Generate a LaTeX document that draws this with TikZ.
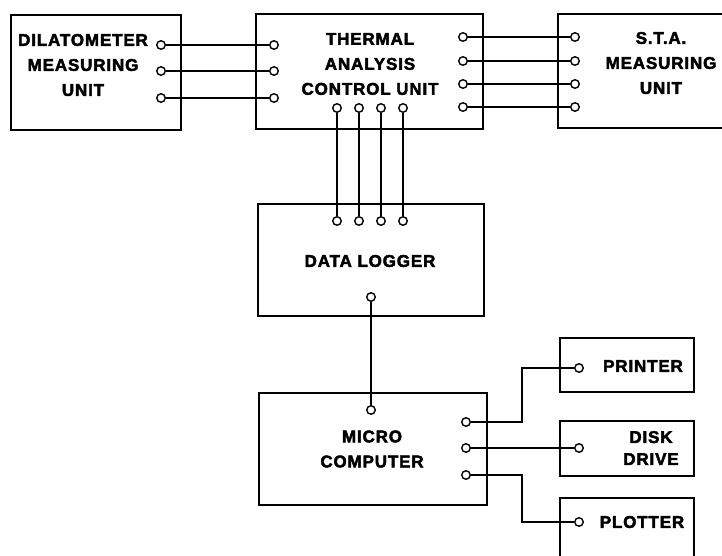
\documentclass[tikz,border=0pt]{standalone}
\usepackage{fontspec}
\setmainfont{Liberation Sans}
\newfontfamily\heavy[FakeBold=2.6, LetterSpace=5]{Liberation Sans Bold}
\begin{document}
\begin{tikzpicture}[x=1pt,y=-1pt,
  box/.style={draw, line width=1.7pt, rectangle, anchor=north west, inner sep=0pt},
  port/.style={circle, draw, line width=1.4pt, inner sep=0pt, minimum size=8.5pt, fill=white},
  lbl/.style={font=\fontsize{17}{25}\selectfont\heavy, align=center, inner sep=0pt},
  lbls/.style={font=\fontsize{17}{22}\selectfont\heavy, align=center, inner sep=0pt},
  wire/.style={line width=1.4pt}]
\path[use as bounding box, clip] (0,0) rectangle (722,555);
\fill[white] (0,0) rectangle (722,555);
% boxes
\node[box, minimum width=170pt, minimum height=115pt] (dil) at (10,14) {};
\node[box, minimum width=227pt, minimum height=115pt] (tac) at (255,13) {};
\node[box, minimum width=180pt, minimum height=114pt] (sta) at (557,13) {};
\node[box, minimum width=226pt, minimum height=112pt] (dlg) at (257,203) {};
\node[box, minimum width=228pt, minimum height=112pt] (mic) at (258,392) {};
\node[box, minimum width=134pt, minimum height=54pt] (prn) at (559,337) {};
\node[box, minimum width=134pt, minimum height=55pt] (dsk) at (559,420) {};
\node[box, minimum width=134pt, minimum height=70pt] (plt) at (559,497) {};
% labels
\node[lbl] (diltxt) at (83,65) {DILATOMETER\\MEASURING\\UNIT};
\node[lbl] (tactxt) at (370,64) {THERMAL\\ANALYSIS\\CONTROL UNIT};
\node[lbl] (statxt) at (661,63) {S.T.A.\\MEASURING\\UNIT};
\node[lbl] (dlgtxt) at (370,261) {DATA LOGGER};
\node[lbl] (mictxt) at (372,449) {MICRO\\COMPUTER};
\node[lbl] (prntxt) at (643,366) {PRINTER};
\node[lbls] (dsktxt) at (651,448) {DISK\\DRIVE};
\node[lbl] (plttxt) at (642,522) {PLOTTER};
% ports
\foreach \i/\y in {1/45,2/71,3/98} {
  \node[port] (dp\i) at (161,\y) {};
  \node[port] (tl\i) at (274,\y) {};
}
\foreach \i/\y in {1/37,2/61,3/84,4/107} {
  \node[port] (tr\i) at (463,\y) {};
  \node[port] (sp\i) at (575,\y) {};
}
\foreach \i/\x in {1/337,2/359,3/381,4/403} {
  \node[port] (tb\i) at (\x,108) {};
  \node[port] (lt\i) at (\x,221) {};
}
\node[port] (lb) at (371,297) {};
\node[port] (mt) at (371,410) {};
\foreach \i/\y in {1/422,2/448,3/475} {
  \node[port] (mr\i) at (466,\y) {};
}
\node[port] (pp) at (579,368) {};
\node[port] (dd) at (579,448) {};
\node[port] (pl) at (579,522) {};
\coordinate (b1) at (522,422);
\coordinate (b3) at (522,475);
% wires
\foreach \i in {1,2,3} { \draw[wire] (dp\i) -- (tl\i); }
\foreach \i in {1,2,3,4} { \draw[wire] (tr\i) -- (sp\i); \draw[wire] (tb\i) -- (lt\i); }
\draw[wire] (lb) -- (mt);
\draw[wire] (mr1) -- (b1) |- (pp);
\draw[wire] (mr2) -- (dd);
\draw[wire] (mr3) -- (b3) |- (pl);
\end{tikzpicture}
\end{document}
